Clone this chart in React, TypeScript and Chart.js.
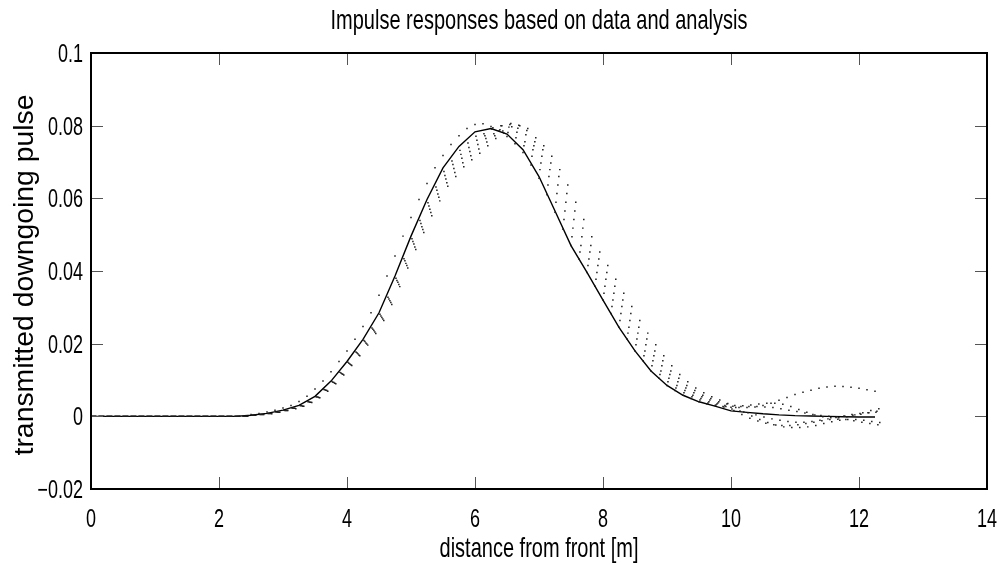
import React, { useEffect, useRef } from "react";
import { Chart, registerables } from "chart.js";

Chart.register(...registerables);

const titleText = "Impulse responses based on data and analysis";
const xTitleText = "distance from front [m]";
const yTitleText = "transmitted downgoing pulse";

const xTicks = [0, 2, 4, 6, 8, 10, 12, 14];
const xTickLabels = ["0", "2", "4", "6", "8", "10", "12", "14"];
const yTicks = [-0.02, 0, 0.02, 0.04, 0.06, 0.08, 0.1];
const yTickLabels = ["\u22120.02", "0", "0.02", "0.04", "0.06", "0.08", "0.1"];

// analysis curve (solid line), sampled every 0.25 m
const xLine = [
  0, 0.25, 0.5, 0.75, 1, 1.25, 1.5, 1.75, 2, 2.25, 2.5, 2.75, 3, 3.25, 3.5, 3.75, 4, 4.25, 4.5, 4.75,
  5, 5.25, 5.5, 5.75, 6, 6.25, 6.5, 6.75, 7, 7.25, 7.5, 7.75, 8, 8.25, 8.5, 8.75, 9, 9.25, 9.5, 9.75,
  10, 10.25, 10.5, 10.75, 11, 11.25, 11.5, 11.75, 12, 12.25,
];
const yLine = [
  0, 0, 0, 0, 0, 0, 0, 0, 0, 0, 0.0003, 0.0008, 0.0017, 0.003, 0.0055, 0.0097, 0.0151, 0.0212, 0.0285, 0.0386,
  0.0496, 0.0597, 0.0684, 0.0743, 0.0783, 0.0792, 0.0777, 0.0734, 0.066, 0.0565, 0.047, 0.0396, 0.032, 0.0245, 0.018, 0.0125, 0.0085, 0.0058, 0.004, 0.0028,
  0.0015, 0.0011, 0.0007, 0.0004, 0.0002, 0.0001, 0, -0.0001, -0.0002, -0.0002,
];

// data traces (dots), sampled every 0.125 m
const xDots = [
  0, 0.125, 0.25, 0.375, 0.5, 0.625, 0.75, 0.875, 1, 1.125, 1.25, 1.375, 1.5, 1.625, 1.75, 1.875, 2, 2.125, 2.25, 2.375,
  2.5, 2.625, 2.75, 2.875, 3, 3.125, 3.25, 3.375, 3.5, 3.625, 3.75, 3.875, 4, 4.125, 4.25, 4.375, 4.5, 4.625, 4.75, 4.875,
  5, 5.125, 5.25, 5.375, 5.5, 5.625, 5.75, 5.875, 6, 6.125, 6.25, 6.375, 6.5, 6.625, 6.75, 6.875, 7, 7.125, 7.25, 7.375,
  7.5, 7.625, 7.75, 7.875, 8, 8.125, 8.25, 8.375, 8.5, 8.625, 8.75, 8.875, 9, 9.125, 9.25, 9.375, 9.5, 9.625, 9.75, 9.875,
  10, 10.125, 10.25, 10.375, 10.5, 10.625, 10.75, 10.875, 11, 11.125, 11.25, 11.375, 11.5, 11.625, 11.75, 11.875, 12, 12.125, 12.25,
];
const leadIn = [0, 0, 0, 0, 0, 0, 0, 0, 0, 0, 0, 0, 0, 0, 0, 0, 0, 0, 0, 0];

const dotsE = [
  ...leadIn,
  0.0005, 0.0008, 0.0012, 0.0017, 0.0023, 0.003, 0.0041, 0.0055, 0.0075, 0.0097, 0.0123, 0.0151, 0.018, 0.0212, 0.0247,
  0.0285, 0.0333, 0.0386, 0.0441, 0.0496, 0.0547, 0.0597, 0.0641, 0.0684, 0.0718, 0.0748, 0.0772, 0.0792, 0.0803, 0.0805,
  0.0798, 0.0786, 0.077, 0.075, 0.0726, 0.0692, 0.0655, 0.061, 0.0562, 0.0515, 0.047, 0.0433, 0.0396, 0.0358, 0.032,
  0.0283, 0.0245, 0.0213, 0.018, 0.0153, 0.0125, 0.0105, 0.0085, 0.0071, 0.0058, 0.0049, 0.004, 0.0034, 0.003,
  0.0027, 0.0025, 0.0024, 0.0024, 0.0026, 0.003, 0.0036, 0.0044, 0.0052, 0.006, 0.0066, 0.0072, 0.0077, 0.0081, 0.0083,
  0.0082, 0.008, 0.0077, 0.0073, 0.0069,
];
const dotsH1 = [
  ...leadIn,
  0.0003, 0.0005, 0.0008, 0.0012, 0.0017, 0.0023, 0.003, 0.004, 0.0054, 0.0074, 0.0096, 0.0121, 0.0149, 0.0177, 0.0209,
  0.0243, 0.0281, 0.0328, 0.038, 0.0434, 0.0489, 0.0539, 0.0588, 0.0631, 0.0674, 0.0703, 0.0732, 0.0752, 0.0771, 0.0778,
  0.079, 0.0789, 0.0781, 0.0767, 0.0745, 0.0716, 0.0679, 0.0637, 0.0589, 0.0542, 0.0494, 0.0452, 0.0415, 0.0377, 0.0339,
  0.0302, 0.0264, 0.0229, 0.0197, 0.0167, 0.0139, 0.0115, 0.0095, 0.0078, 0.0065, 0.0054, 0.0045, 0.0037, 0.0031,
  0.0026, 0.002, 0.0015, 0.001, 0.0004, -0.0002, -0.0007, -0.0011, -0.0014, -0.0016, -0.0016, -0.0014, -0.0011, -0.0007, -0.0003,
  0.0001, 0.0005, 0.0008, 0.001, 0.0011,
];
const dotsH2 = [
  ...leadIn,
  0.0003, 0.0005, 0.0008, 0.0012, 0.0016, 0.0022, 0.0029, 0.004, 0.0053, 0.0073, 0.0094, 0.0119, 0.0146, 0.0175, 0.0206,
  0.024, 0.0276, 0.0323, 0.0374, 0.0428, 0.0481, 0.0531, 0.0579, 0.0622, 0.0663, 0.0693, 0.0721, 0.074, 0.076, 0.0772,
  0.0794, 0.08, 0.0796, 0.0782, 0.0756, 0.0734, 0.0697, 0.066, 0.0613, 0.0565, 0.0518, 0.047, 0.0433, 0.0396, 0.0358,
  0.032, 0.0283, 0.0245, 0.0213, 0.018, 0.0153, 0.0125, 0.0105, 0.0085, 0.0071, 0.0058, 0.0049, 0.004, 0.0034,
  0.003, 0.0028, 0.0027, 0.0027, 0.0027, 0.0026, 0.0024, 0.0021, 0.0017, 0.0013, 0.0009, 0.0005, 0.0002, 0, -0.0001,
  0, 0.0003, 0.0006, 0.001, 0.0014,
];
const dotsH3 = [
  ...leadIn,
  0.0003, 0.0005, 0.0008, 0.0011, 0.0016, 0.0022, 0.0029, 0.0039, 0.0053, 0.0072, 0.0093, 0.0117, 0.0144, 0.0172, 0.0202,
  0.0236, 0.0272, 0.0318, 0.0369, 0.0421, 0.0474, 0.0522, 0.057, 0.0612, 0.0653, 0.0682, 0.071, 0.0729, 0.0748, 0.0765,
  0.0778, 0.08, 0.0803, 0.0793, 0.0775, 0.0745, 0.0716, 0.0679, 0.0637, 0.0589, 0.0542, 0.0494, 0.0452, 0.0415, 0.0377,
  0.0339, 0.0302, 0.0264, 0.0229, 0.0197, 0.0167, 0.0139, 0.0115, 0.0095, 0.0078, 0.0065, 0.0054, 0.0045, 0.0037,
  0.0027, 0.0016, 0.0005, -0.0005, -0.0013, -0.0019, -0.0023, -0.0025, -0.0025, -0.0023, -0.002, -0.0016, -0.0012, -0.0009, -0.0008,
  -0.0009, -0.0012, -0.0016, -0.002, -0.0023,
];
const dotsH4 = [
  ...leadIn,
  0.0003, 0.0005, 0.0008, 0.0011, 0.0016, 0.0022, 0.0028, 0.0039, 0.0052, 0.0071, 0.0091, 0.0116, 0.0142, 0.0169, 0.0199,
  0.0232, 0.0268, 0.0313, 0.0363, 0.0415, 0.0466, 0.0514, 0.0561, 0.0603, 0.0643, 0.0671, 0.0698, 0.0717, 0.0736, 0.0755,
  0.0772, 0.0785, 0.0806, 0.0801, 0.0787, 0.0756, 0.0734, 0.0697, 0.066, 0.0613, 0.0565, 0.0518, 0.047, 0.0433, 0.0396,
  0.0358, 0.032, 0.0283, 0.0245, 0.0213, 0.018, 0.0153, 0.0125, 0.0105, 0.0085, 0.0071, 0.0058, 0.0049, 0.004,
  0.0034, 0.003, 0.0029, 0.0031, 0.0034, 0.0036, 0.0036, 0.0033, 0.0027, 0.0019, 0.0011, 0.0004, -0.0001, -0.0004, -0.0004,
  -0.0001, 0.0004, 0.001, 0.0016, 0.0021,
];
const dotsH5 = [
  ...leadIn,
  0.0003, 0.0005, 0.0007, 0.0011, 0.0016, 0.0021, 0.0028, 0.0038, 0.0051, 0.0069, 0.009, 0.0114, 0.014, 0.0167, 0.0196,
  0.0228, 0.0264, 0.0308, 0.0357, 0.0408, 0.0459, 0.0506, 0.0552, 0.0593, 0.0633, 0.066, 0.0687, 0.0706, 0.0724, 0.0745,
  0.0765, 0.078, 0.0797, 0.08, 0.0792, 0.0767, 0.0745, 0.0716, 0.0679, 0.0637, 0.0589, 0.0542, 0.0494, 0.0452, 0.0415,
  0.0377, 0.0339, 0.0302, 0.0264, 0.0229, 0.0197, 0.0167, 0.0139, 0.0115, 0.0095, 0.0078, 0.0065, 0.0054, 0.0045,
  0.0035, 0.0024, 0.0012, 0.0001, -0.0009, -0.0017, -0.0024, -0.0029, -0.0031, -0.0031, -0.0029, -0.0025, -0.002, -0.0015, -0.0011,
  -0.0009, -0.0009, -0.0011, -0.0014, -0.0017,
];

const dotSeries = [dotsE, dotsH1, dotsH2, dotsH3, dotsH4, dotsH5];
// small offsets (in metres) of each trace's sampling grid
const dotShift = [0, 0.015, 0.03, 0.045, 0.06, 0.075];

const FONT = '"Liberation Sans", Arial, Helvetica, sans-serif';
const VSTRETCH = 1.4;

function stretchedText(ctx: any, text: string, x: number, y: number, size: number, align: string) {
  ctx.save();
  ctx.translate(x, y);
  ctx.scale(1, VSTRETCH);
  ctx.font = `${size}px ${FONT}`;
  ctx.textAlign = align;
  ctx.textBaseline = "alphabetic";
  ctx.fillText(text, 0, 0);
  ctx.restore();
}

const framePlugin = {
  id: "frameAndTexts",
  afterDraw(chart: any) {
    const { ctx, chartArea: a, scales } = chart;
    const x = scales.x;
    const y = scales.y;
    ctx.save();
    // inward ticks on all four sides
    ctx.strokeStyle = "#555";
    ctx.lineWidth = 1;
    ctx.beginPath();
    const tl = 12;
    xTicks.forEach((v) => {
      const px = Math.round(x.getPixelForValue(v)) + 0.5;
      ctx.moveTo(px, a.bottom);
      ctx.lineTo(px, a.bottom - tl);
      ctx.moveTo(px, a.top);
      ctx.lineTo(px, a.top + tl);
    });
    yTicks.forEach((v) => {
      const py = Math.round(y.getPixelForValue(v)) + 0.5;
      ctx.moveTo(a.left, py);
      ctx.lineTo(a.left + tl, py);
      ctx.moveTo(a.right, py);
      ctx.lineTo(a.right - tl, py);
    });
    ctx.stroke();
    // box
    ctx.strokeStyle = "#000";
    ctx.lineWidth = 2;
    ctx.strokeRect(a.left, a.top, a.right - a.left, a.bottom - a.top);

    ctx.fillStyle = "#000";
    // tick labels
    xTicks.forEach((v, i) => {
      stretchedText(ctx, xTickLabels[i], x.getPixelForValue(v), a.bottom + 38, 18, "center");
    });
    yTicks.forEach((v, i) => {
      stretchedText(ctx, yTickLabels[i], a.left - 8, y.getPixelForValue(v) + 9, 18, "right");
    });
    // titles
    const cx = (a.left + a.right) / 2;
    const cy = (a.top + a.bottom) / 2;
    stretchedText(ctx, titleText, cx, 29, 20, "center");
    stretchedText(ctx, xTitleText, cx, 557, 20, "center");

    ctx.save();
    ctx.translate(32.5, cy + 4);
    ctx.rotate(-Math.PI / 2);
    ctx.scale(1.05, 1);
    ctx.font = `27px ${FONT}`;
    ctx.textAlign = "center";
    ctx.textBaseline = "alphabetic";
    ctx.fillText(yTitleText, 0, 0);
    ctx.restore();

    ctx.restore();
  },
};

export default function App() {
  const ref = useRef<HTMLCanvasElement | null>(null);

  useEffect(() => {
    document.body.style.margin = "0";
    const canvas = ref.current;
    if (!canvas) return;

    const datasets: any[] = [];
    dotSeries.forEach((ys, k) => {
      datasets.push({
        type: "scatter",
        label: "data " + (k + 1),
        data: xDots.map((xv, i) => ({ x: xv + dotShift[k], y: ys[i] })),
        showLine: false,
        pointStyle: "rect",
        pointRadius: 1.05,
        pointBackgroundColor: "#1a1a1a",
        pointBorderWidth: 0,
        borderWidth: 0,
      });
    });
    datasets.push({
      type: "line",
      label: "analysis",
      data: xLine.map((xv, i) => ({ x: xv, y: yLine[i] })),
      borderColor: "#000",
      borderWidth: 1.4,
      pointRadius: 0,
      tension: 0,
      fill: false,
    });

    const chart = new Chart(canvas, {
      type: "scatter",
      data: { datasets },
      options: {
        animation: false,
        responsive: false,
        events: [],
        layout: { padding: { top: 53, right: 13, left: 0, bottom: 0 } },
        plugins: {
          legend: { display: false },
          tooltip: { enabled: false },
          title: { display: false },
        },
        scales: {
          x: {
            type: "linear",
            min: 0,
            max: 14,
            afterBuildTicks: (s: any) => {
              s.ticks = xTicks.map((v) => ({ value: v }));
            },
            afterFit: (s: any) => {
              s.height = 75;
            },
            ticks: { display: false },
            grid: { display: false },
            border: { display: false },
          },
          y: {
            type: "linear",
            min: -0.02,
            max: 0.1,
            afterBuildTicks: (s: any) => {
              s.ticks = yTicks.map((v) => ({ value: v }));
            },
            afterFit: (s: any) => {
              s.width = 91;
            },
            ticks: { display: false },
            grid: { display: false },
            border: { display: false },
          },
        },
      } as any,
      plugins: [framePlugin],
    });
    return () => chart.destroy();
  }, []);

  return (
    <div style={{ width: 1000, height: 564, background: "#fff" }}>
      <canvas ref={ref} width={1000} height={564} style={{ display: "block" }} />
    </div>
  );
}
